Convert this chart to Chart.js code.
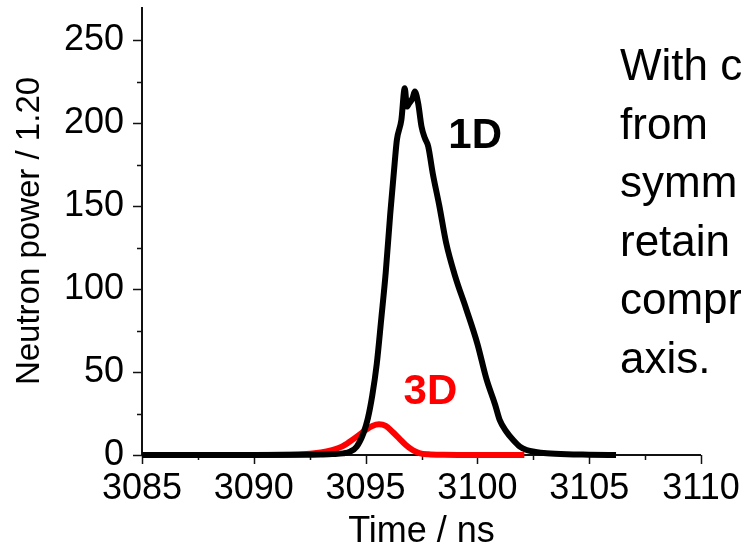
<!DOCTYPE html>
<html>
<head>
<meta charset="utf-8">
<script src="https://cdn.jsdelivr.net/npm/chart.js@4"></script>
<style>
  body { margin: 0; background: #fff; }
  #wrap { width: 741px; height: 550px; }
</style>
</head>
<body>
<div id="wrap"><canvas id="chart" width="741" height="550"></canvas></div>
<script>
// --- data ---
const time1D = [3085, 3090, 3092, 3093, 3093.5, 3094, 3094.3, 3094.6, 3094.9, 3095.1, 3095.3, 3095.5,
  3095.7, 3095.9, 3096.1, 3096.3, 3096.4, 3096.6, 3096.75, 3096.85, 3096.95, 3097.1, 3097.2, 3097.35,
  3097.5, 3097.65, 3097.8, 3098.0, 3098.3, 3098.6, 3099.0, 3099.5, 3100.0, 3100.4, 3100.8, 3101.0,
  3101.3, 3101.6, 3101.9, 3102.2, 3102.6, 3103.1, 3104, 3105, 3106.2];
const power1D = [0, 0, 0.1, 0.3, 0.6, 1, 2, 5, 13, 22, 36, 55,
  82, 110, 145, 176, 190, 202, 221, 210, 212, 215, 219, 212,
  198, 191, 186, 170, 150, 128, 108, 88, 67, 46, 30, 21,
  14, 9, 5, 3, 1.8, 1, 0.4, 0.2, 0];

const time3D = [3085, 3090, 3092, 3093, 3093.5, 3094, 3094.5, 3095, 3095.3, 3095.6, 3095.9, 3096.2,
  3096.5, 3096.8, 3097.1, 3097.4, 3097.8, 3098.5, 3100, 3102.1];
const power3D = [0, 0, 0.3, 1.5, 3, 5.5, 10, 15, 17.5, 18.5, 17.5, 14,
  10, 6, 3, 1.2, 0.4, 0.1, 0, 0];

const xTicks = [3085, 3090, 3095, 3100, 3105, 3110];
const yTicks = [0, 50, 100, 150, 200, 250];
const sideText = ['With c', 'from', 'symm', 'retain', 'compr', 'axis.'];

const FONT = "'Liberation Sans', Arial, sans-serif";

function toPoints(xs, ys) {
  return xs.map((x, i) => ({ x: x, y: ys[i] }));
}

// axes drawn by hand: outward major + minor ticks, no grid
const axesPlugin = {
  id: 'axes',
  beforeDatasetsDraw(chart) {
    const { ctx, chartArea, scales } = chart;
    const xs = scales.x, ys = scales.y;
    ctx.save();
    ctx.strokeStyle = '#111';
    ctx.lineWidth = 2;
    ctx.beginPath();
    ctx.moveTo(chartArea.left, chartArea.top);
    ctx.lineTo(chartArea.left, chartArea.bottom);
    ctx.lineTo(chartArea.right, chartArea.bottom);
    ctx.stroke();

    ctx.lineWidth = 1.5;
    ctx.beginPath();
    for (let v = xs.min; v <= xs.max + 0.001; v += 2.5) {
      const px = Math.round(xs.getPixelForValue(v)) + 0.5;
      const len = (v - xs.min) % 5 === 0 ? 9 : 5;
      ctx.moveTo(px, chartArea.bottom);
      ctx.lineTo(px, chartArea.bottom + len);
    }
    for (let v = 0; v <= 250; v += 25) {
      const py = Math.round(ys.getPixelForValue(v)) + 0.5;
      const len = v % 50 === 0 ? 9 : 5;
      ctx.moveTo(chartArea.left, py);
      ctx.lineTo(chartArea.left - len, py);
    }
    ctx.stroke();
    ctx.restore();
  }
};

const labelsPlugin = {
  id: 'labels',
  afterDraw(chart) {
    const { ctx, scales } = chart;
    ctx.save();
    ctx.textAlign = 'center';
    ctx.textBaseline = 'middle';
    ctx.font = 'bold 42px ' + FONT;
    ctx.fillStyle = '#000';
    ctx.fillText('1D', scales.x.getPixelForValue(3099.9), scales.y.getPixelForValue(192));
    ctx.fillStyle = '#ff0000';
    ctx.fillText('3D', scales.x.getPixelForValue(3097.9), scales.y.getPixelForValue(38));

    // side note, cut off by the right edge like in the slide
    ctx.textAlign = 'left';
    ctx.textBaseline = 'alphabetic';
    ctx.font = '44px ' + FONT;
    ctx.fillStyle = '#000';
    sideText.forEach((line, i) => {
      ctx.fillText(line, 620, 80 + i * 58.6);
    });
    ctx.restore();
  }
};

new Chart(document.getElementById('chart'), {
  type: 'line',
  data: {
    datasets: [
      {
        label: '1D',
        data: toPoints(time1D, power1D),
        borderColor: '#000',
        borderWidth: 6,
        pointRadius: 0,
        cubicInterpolationMode: 'monotone',
        fill: false,
        clip: false,
        order: 0
      },
      {
        label: '3D',
        data: toPoints(time3D, power3D),
        borderColor: '#ff0000',
        borderWidth: 6,
        pointRadius: 0,
        cubicInterpolationMode: 'monotone',
        fill: false,
        clip: false,
        order: 1
      }
    ]
  },
  options: {
    responsive: false,
    animation: false,
    devicePixelRatio: 1,
    layout: { padding: { top: 7, right: 40, left: 0, bottom: 0 } },
    plugins: {
      legend: { display: false },
      tooltip: { enabled: false }
    },
    scales: {
      x: {
        type: 'linear',
        min: 3085,
        max: 3110,
        afterFit: (s) => { s.height = 95; s.paddingLeft = 0; s.paddingRight = 0; },
        afterBuildTicks: (s) => { s.ticks = xTicks.map(v => ({ value: v })); },
        grid: { display: false, drawTicks: false },
        border: { display: false },
        ticks: {
          padding: 12,
          color: '#000',
          font: { family: FONT, size: 36 },
          maxRotation: 0,
          callback: (v) => String(v)
        },
        title: {
          display: true,
          text: 'Time / ns',
          color: '#000',
          font: { family: FONT, size: 36, lineHeight: 1 },
          padding: { top: 0, bottom: 0 }
        }
      },
      y: {
        type: 'linear',
        min: 0,
        max: 270,
        afterFit: (s) => { s.width = 142; s.paddingTop = 0; s.paddingBottom = 0; },
        afterBuildTicks: (s) => { s.ticks = yTicks.map(v => ({ value: v })); },
        grid: { display: false, drawTicks: false },
        border: { display: false },
        ticks: {
          padding: 18,
          color: '#000',
          font: { family: FONT, size: 36 },
          callback: (v) => String(v)
        },
        title: {
          display: true,
          text: 'Neutron power / 1.20',
          color: '#000',
          font: { family: FONT, size: 33, lineHeight: 1 },
          padding: { top: 13, bottom: 0 }
        }
      }
    }
  },
  plugins: [axesPlugin, labelsPlugin]
});
</script>
</body>
</html>
